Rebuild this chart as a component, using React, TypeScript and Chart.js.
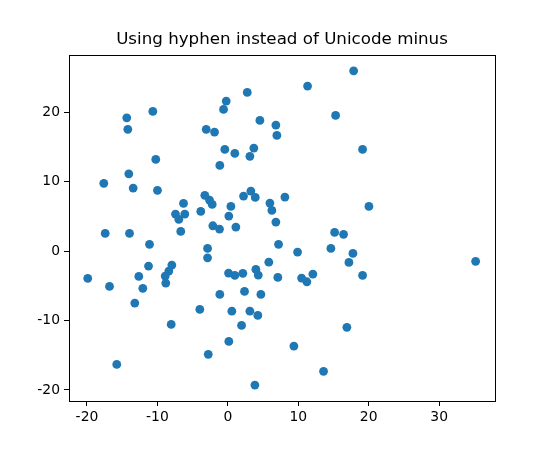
import React, { useEffect, useRef } from "react";
import { Chart, registerables } from "chart.js";

Chart.register(...registerables);

const TITLE = "Using hyphen instead of Unicode minus";
const X_TICKS = [-20, -10, 0, 10, 20, 30];
const Y_TICKS = [-20, -10, 0, 10, 20];

const xValues = [
  -14.35, -14.2, -10.65, -3.07, -1.89, -10.23, -14.06, -17.61, -13.44, -9.99,
  -6.29, -3.27, -7.43, -6.11, -6.96, -3.84, -2.6, 2.76, -0.23, -0.61,
  11.32, 15.3, 4.55, 6.82, 6.96, -0.43, 0.99, 3.69, 3.13, -1.14,
  -2.22, 0.43, 0.14, 2.23, 3.27, 3.89, 5.97, 6.25, 8.1, 6.82,
  -2.13, -1.18, 1.14, 17.86, 19.13, 20.03, -17.41, -13.96, -11.12, -6.68,
  -2.88, -2.88, -11.26, -7.95, -8.38, -8.89, -8.81, -19.89, -16.8, -12.64,
  -12.07, -13.21, -3.98, -8.04, -2.78, -15.77, 15.16, 16.43, 7.2, 9.9,
  14.63, 17.76, 17.19, 0.1, 0.99, 2.13, 3.98, 4.32, 5.82, 7.1,
  10.47, 11.22, 12.07, -1.14, 2.37, 4.69, 0.57, 3.13, 4.26, 1.95,
  0.14, 9.38, 13.59, 3.84, 16.9, 19.13, 35.18,
];

const yValues = [
  19.21, 17.54, 20.13, 17.54, 17.15, 13.21, 11.14, 9.76, 9.08, 8.75,
  6.87, 8.03, 5.33, 5.33, 4.57, 5.72, 7.35, 22.87, 21.61, 20.42,
  23.78, 19.55, 18.83, 18.16, 16.67, 14.65, 14.08, 14.84, 13.65, 12.35,
  6.73, 6.44, 5.04, 7.93, 8.65, 7.74, 6.92, 5.86, 7.78, 4.18,
  3.65, 3.17, 3.46, 25.98, 14.65, 6.44, 2.55, 2.55, 0.97, 2.84,
  0.39, -0.97, -2.16, -2.02, -2.88, -3.6, -4.61, -3.93, -5.09, -3.65,
  -5.37, -7.49, -8.4, -10.56, -14.88, -16.33, 2.69, 2.41, 0.97, -0.14,
  0.39, -0.33, -1.63, -3.17, -3.5, -3.21, -2.64, -3.46, -1.59, -3.79,
  -3.89, -4.42, -3.31, -6.24, -5.81, -6.24, -8.65, -8.65, -9.27, -10.71,
  -13.01, -13.69, -17.33, -19.31, -10.99, -3.5, -1.48,
];

const FONT = "'DejaVu Sans', sans-serif";

const framePlugin = {
  id: "frame",
  afterDatasetsDraw(chart: any) {
    const { ctx, chartArea } = chart;
    ctx.save();
    ctx.strokeStyle = "#000";
    ctx.lineWidth = 1;
    ctx.strokeRect(
      Math.round(chartArea.left) + 0.5,
      Math.round(chartArea.top) + 0.5,
      Math.round(chartArea.right - chartArea.left),
      Math.round(chartArea.bottom - chartArea.top)
    );
    ctx.restore();
  },
};

export default function App() {
  const ref = useRef<HTMLCanvasElement | null>(null);

  useEffect(() => {
    if (!ref.current) return;
    const points = xValues.map((x, i) => ({ x, y: yValues[i] }));
    const chart = new Chart(ref.current, {
      type: "scatter",
      data: {
        datasets: [
          {
            data: points,
            backgroundColor: "#1f77b4",
            borderColor: "#1f77b4",
            borderWidth: 0,
            pointRadius: 4.4,
            pointHoverRadius: 4.4,
          },
        ],
      },
      options: {
        responsive: false,
        animation: false,
        layout: { padding: { left: 0, right: 55, top: 0, bottom: 0 } },
        plugins: {
          legend: { display: false },
          tooltip: { enabled: false },
          title: {
            display: true,
            text: TITLE,
            fullSize: false,
            color: "#000",
            font: { family: FONT, size: 16.7, weight: "normal" },
            padding: { top: 30, bottom: 5 },
          },
        },
        scales: {
          x: {
            type: "linear",
            min: -22.55,
            max: 37.93,
            afterFit: (s: any) => {
              s.height = 49;
            },
            afterBuildTicks: (s: any) => {
              s.ticks = X_TICKS.map((v) => ({ value: v }));
            },
            ticks: {
              includeBounds: false,
              color: "#000",
              font: { family: FONT, size: 13.9 },
              padding: 3,
              maxRotation: 0,
              callback: (v: any) => String(v),
            },
            grid: {
              drawOnChartArea: false,
              drawTicks: true,
              tickLength: 5,
              tickColor: "#000",
            },
            border: { display: true, color: "#000" },
          },
          y: {
            type: "linear",
            min: -21.6,
            max: 28.25,
            afterFit: (s: any) => {
              s.width = 69;
            },
            afterBuildTicks: (s: any) => {
              s.ticks = Y_TICKS.map((v) => ({ value: v }));
            },
            ticks: {
              includeBounds: false,
              color: "#000",
              font: { family: FONT, size: 13.9 },
              padding: 4,
              callback: (v: any) => String(v),
            },
            grid: {
              drawOnChartArea: false,
              drawTicks: true,
              tickLength: 5,
              tickColor: "#000",
            },
            border: { display: true, color: "#000" },
          },
        },
      },
      plugins: [framePlugin],
    });
    return () => chart.destroy();
  }, []);

  return (
    <div style={{ position: "fixed", left: 0, top: 0, width: 550, height: 450, background: "#fff" }}>
      <canvas ref={ref} width={550} height={450} style={{ display: "block" }} />
    </div>
  );
}
